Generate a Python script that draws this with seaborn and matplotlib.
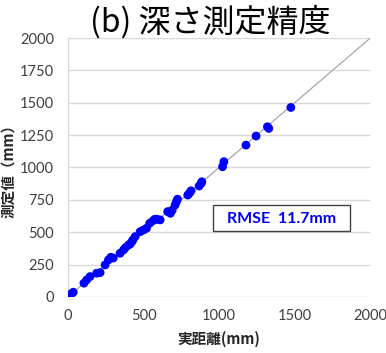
import matplotlib
matplotlib.use("Agg")
import matplotlib.pyplot as plt
from matplotlib.patches import Rectangle
import seaborn as sns
import pandas as pd

# Measured vs. actual distance (mm)
actual = [22, 35, 106, 124, 146, 190, 213, 246, 268, 284, 300, 345, 368, 380,
          401, 412, 423, 430, 445, 478, 500, 520, 541, 563, 575, 589, 610, 660,
          678, 690, 709, 718, 725, 793, 806, 815, 868, 882, 886, 1023, 1032,
          1178, 1245, 1320, 1329, 1475]
measured = [23, 36, 106, 131, 157, 183, 188, 247, 286, 306, 300, 337, 363, 380,
            401, 409, 427, 440, 466, 504, 517, 530, 569, 589, 600, 600, 595, 659,
            646, 670, 710, 736, 755, 787, 805, 820, 857, 878, 890, 1006, 1045,
            1173, 1243, 1315, 1302, 1464]
ticks = [0, 250, 500, 750, 1000, 1250, 1500, 1750, 2000]
xticks = [0, 500, 1000, 1500, 2000]
rmse_label = "RMSE  11.7mm"

sns.set_theme(style="white")
plt.rcParams["font.family"] = ["Noto Sans CJK JP", "DejaVu Sans"]

df = pd.DataFrame({"actual": actual, "measured": measured})

fig = plt.figure(figsize=(3.86, 3.53), dpi=100)
ax = fig.add_axes([0.176, 0.159, 0.783, 0.733])

# identity reference line
ax.plot([0, 2000], [0, 2000], color="#a6a6a6", lw=0.9, zorder=1)

sns.scatterplot(data=df, x="actual", y="measured", ax=ax, color="#0000ff",
                s=40, edgecolor="none", zorder=3)

ax.set_xlim(0, 2000)
ax.set_ylim(0, 2000)
ax.set_xticks(xticks)
ax.set_yticks(ticks)
ax.tick_params(axis="both", length=0, labelsize=10.5, colors="#404040")
ax.tick_params(axis="y", pad=10)
ax.tick_params(axis="x", pad=9)
for lab in ax.get_xticklabels() + ax.get_yticklabels():
    lab.set_family(["Lato", "DejaVu Sans"])
ax.grid(axis="y", color="#d9d9d9", lw=1)
ax.grid(axis="x", visible=False)
for side in ["top", "right", "bottom"]:
    ax.spines[side].set_visible(False)
ax.spines["left"].set_color("#d9d9d9")
ax.spines["left"].set_linewidth(1)

ax.set_xlabel("実距離(mm)", fontsize=10.5, fontweight="bold", color="#262626", labelpad=5)
ax.set_ylabel("測定値（mm）", fontsize=10.5, fontweight="bold", color="#262626", labelpad=3)

fig.text(0.545, 0.938, "(b) 深さ測定精度", ha="center", va="center", fontsize=23, color="#000000")

# RMSE annotation box
ax.add_patch(Rectangle((963, 510), 904, 200, facecolor="white", edgecolor="#404040",
                       lw=1.0, zorder=4))
ax.text(1412, 604, rmse_label, ha="center", va="center", fontsize=11.5, fontweight="bold",
        color="#0000ff", family=["Lato", "DejaVu Sans"], zorder=5)

fig.savefig("out.png", dpi=100)
